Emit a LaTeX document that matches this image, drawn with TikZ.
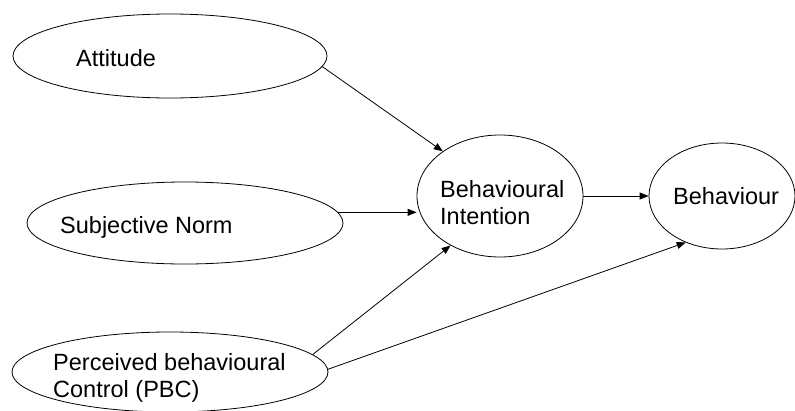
\documentclass[tikz,border=0pt]{standalone}
\usepackage{fontspec}
\setmainfont{Liberation Sans}
\usetikzlibrary{shapes.geometric,arrows.meta}
\begin{document}
\begin{tikzpicture}[x=1pt,y=-1pt,
  oval/.style={draw,ellipse,line width=0.8pt,inner sep=0pt},
  lbl/.style={inner sep=0pt,align=left,font=\fontsize{23.5}{27.5}\selectfont},
  arr/.style={line width=0.8pt,-{Triangle[length=9pt,width=7pt]}}]
\useasboundingbox (0,0) rectangle (795,410);
\node[oval,minimum width=314pt,minimum height=84pt] (att) at (170,56) {};
\node[oval,minimum width=316pt,minimum height=82pt] (sn) at (185,223) {};
\node[oval,minimum width=316pt,minimum height=80pt] (pbc) at (170,372) {};
\node[oval,minimum width=166pt,minimum height=122pt] (bi) at (500,196) {};
\node[oval,minimum width=146pt,minimum height=106pt] (beh) at (722,196) {};
\node[lbl,anchor=base west] (tatt) at (76,66) {Attitude};
\node[lbl,anchor=base west] (tsn) at (60,233) {Subjective Norm};
\node[lbl,anchor=north west] (tpbc) at (53,353) {Perceived behavioural\\Control (PBC)};
\node[lbl,anchor=north west] (tbi) at (440,180) {Behavioural\\Intention};
\node[lbl,anchor=base west] (tbeh) at (673,204) {Behaviour};
\draw[arr] (att.-4.5) -- (bi.142);
\draw[arr] (sn.4) -- (sn.4 -| bi.west);
\draw[arr] (pbc.7) -- (bi.225);
\draw[arr] (pbc.1) -- (beh.232);
\draw[arr] (bi.east) -- (beh.west);
\end{tikzpicture}
\end{document}
